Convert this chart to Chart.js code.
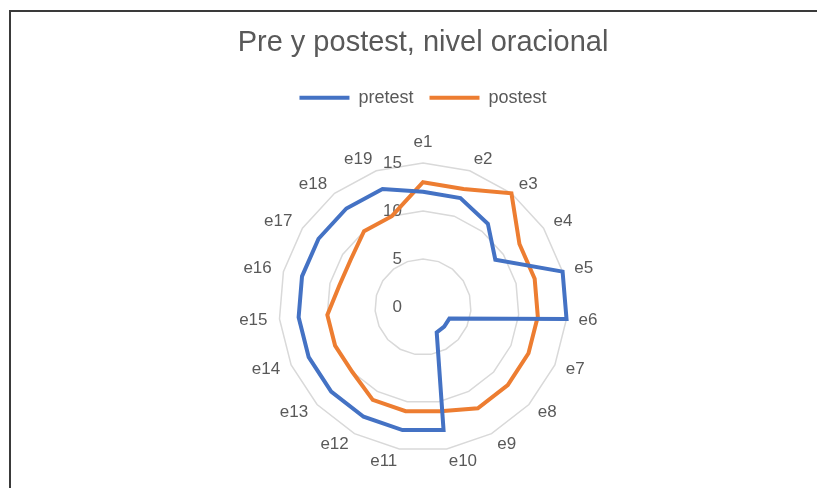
<!DOCTYPE html>
<html>
<head>
<meta charset="utf-8">
<script src="https://cdn.jsdelivr.net/npm/chart.js@4.4.0/dist/chart.umd.min.js"></script>
<style>
  html, body { margin: 0; padding: 0; background: #fff; overflow: hidden; }
  #frame { position: absolute; left: 9px; top: 10px; width: 900px; height: 600px; border: 2px solid #3a3a3a; box-sizing: border-box; }
  #wrap { position: absolute; left: 0; top: 0; width: 817px; height: 488px; }
</style>
</head>
<body>
<div id="frame"></div>
<div id="wrap"><canvas id="radarChart"></canvas></div>
<script>
const categories = ["e1", "e2", "e3", "e4", "e5", "e6", "e7", "e8", "e9", "e10",
  "e11", "e12", "e13", "e14", "e15", "e16", "e17", "e18", "e19"];
const pretestValues = [12, 12, 11, 9, 15, 15, 3, 3, 3, 13, 13, 13, 13, 13, 13, 13, 13, 13, 13];
const postestValues = [13, 13, 15, 12, 12, 12, 12, 12, 12, 11, 11, 11, 10, 10, 10, 9, 9, 10, 10];
const tickValues = [0, 5, 10, 15];

const textGray = "#595959";
const fontFamily = "'Liberation Sans', sans-serif";

// excel puts the value labels left of the vertical axis
// and centres the category labels on their spoke
const labelPlugin = {
  id: "excelLabels",
  beforeDatasetsDraw(chart) {
    const scale = chart.scales.r;
    const ctx = chart.ctx;
    ctx.save();
    ctx.font = "17px " + fontFamily;
    ctx.fillStyle = textGray;
    ctx.textAlign = "right";
    ctx.textBaseline = "middle";
    tickValues.forEach(v => {
      const d = scale.getDistanceFromCenterForValue(v);
      ctx.fillText(String(v), scale.xCenter - 21, scale.yCenter - d);
    });
    const outer = scale.getDistanceFromCenterForValue(scale.max) + 12;
    chart.data.labels.forEach((lbl, i) => {
      const p = scale.getPointPosition(i, outer);
      let deg = Math.round(scale.getIndexAngle(i) * 180 / Math.PI) % 360;
      if (deg === 0 || deg === 180) ctx.textAlign = "center";
      else ctx.textAlign = deg < 180 ? "left" : "right";
      ctx.textBaseline = deg === 0 ? "bottom" : "middle";
      ctx.fillText(lbl, p.x, p.y);
    });
    ctx.restore();
  }
};

// a bit more room between legend and plot
const legendGapPlugin = {
  id: "legendGap",
  beforeInit(chart) {
    const origFit = chart.legend.fit;
    chart.legend.fit = function () {
      origFit.call(this);
      this.height += 47;
    };
  }
};

window.addEventListener("DOMContentLoaded", function () {
  const canvas = document.getElementById("radarChart");
  canvas.width = 817;
  canvas.height = 488;
  new Chart(canvas.getContext("2d"), {
    type: "radar",
    data: {
      labels: categories,
      datasets: [{
        label: "pretest",
        data: pretestValues,
        borderColor: "#4472C4",
        backgroundColor: "#4472C4",
        borderWidth: 4,
        pointRadius: 0,
        fill: false,
        tension: 0
      }, {
        label: "postest",
        data: postestValues,
        borderColor: "#ED7D31",
        backgroundColor: "#ED7D31",
        borderWidth: 4,
        pointRadius: 0,
        fill: false,
        tension: 0
      }]
    },
    options: {
      responsive: false,
      animation: false,
      layout: { padding: { top: 4, bottom: 36, left: 49, right: 20 } },
      plugins: {
        title: {
          display: true,
          text: "Pre y postest, nivel oracional",
          color: textGray,
          font: { family: fontFamily, size: 29, weight: "normal" },
          padding: { top: 22, bottom: 12 }
        },
        legend: {
          position: "top",
          labels: {
            color: textGray,
            font: { family: fontFamily, size: 18 },
            usePointStyle: true,
            pointStyle: "line",
            pointStyleWidth: 50,
            padding: 16
          }
        },
        tooltip: { enabled: false }
      },
      scales: {
        r: {
          min: 0,
          max: 15,
          ticks: { stepSize: 5, display: false },
          angleLines: { display: false },
          grid: { color: "#d9d9d9", lineWidth: 1.5 },
          pointLabels: { display: false }
        }
      }
    },
    plugins: [labelPlugin, legendGapPlugin]
  });
});
</script>
</body>
</html>
